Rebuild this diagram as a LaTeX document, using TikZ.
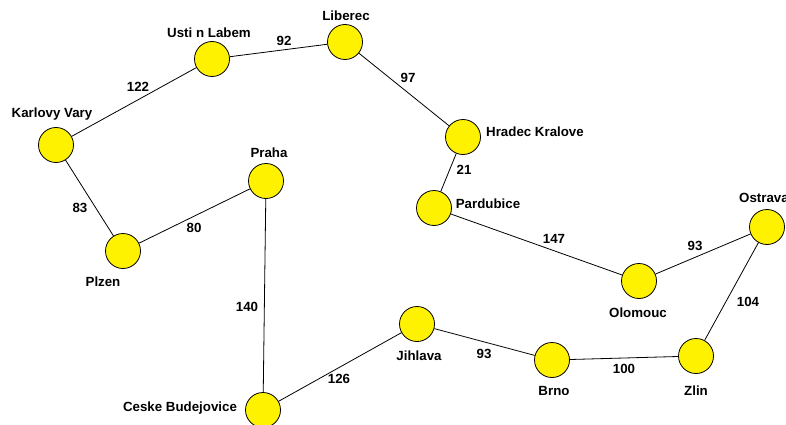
\documentclass[tikz,border=0pt]{standalone}
\usepackage{fontspec}
\setmainfont{Liberation Sans}
\begin{document}
\begin{tikzpicture}[x=1pt,y=-1pt,
  city/.style={circle,draw=black,line width=0.8pt,fill=yellow,minimum size=35pt,inner sep=0pt},
  lbl/.style={font=\fontsize{13.3}{15}\selectfont\bfseries,inner sep=0pt},
  road/.style={draw=black,line width=0.8pt}]
\useasboundingbox (0,0) rectangle (786,425);
% cities
\node[city] (usti) at (212,59) {};
\node[city] (lib) at (345,42) {};
\node[city] (kv) at (56,145) {};
\node[city] (hk) at (463,137) {};
\node[city] (pra) at (266,181) {};
\node[city] (par) at (434,208) {};
\node[city] (plz) at (123,251) {};
\node[city] (ost) at (767,227) {};
\node[city] (olo) at (639,281) {};
\node[city] (jih) at (417,324) {};
\node[city] (brno) at (552,360) {};
\node[city] (zlin) at (696,356) {};
\node[city] (cb) at (263,410) {};
% names
\node[lbl] (tusti) at (209,33) {Usti n Labem};
\node[lbl] (tlib) at (346,16) {Liberec};
\node[lbl] (tkv) at (52,114) {Karlovy Vary};
\node[lbl] (thk) at (535,132) {Hradec Kralove};
\node[lbl] (tpra) at (269,153) {Praha};
\node[lbl] (tpar) at (488,204) {Pardubice};
\node[lbl] (tplz) at (103,282) {Plzen};
\node[lbl] (tost) at (764,198) {Ostrava};
\node[lbl] (tolo) at (638,313) {Olomouc};
\node[lbl] (tjih) at (419,356) {Jihlava};
\node[lbl] (tbrno) at (554,391) {Brno};
\node[lbl] (tzlin) at (696,391) {Zlin};
\node[lbl] (tcb) at (180,408) {Ceske Budejovice};
% roads
\begin{scope}[on background layer/.style={}]
\draw[road] (kv) -- (usti);
\draw[road] (usti) -- (lib);
\draw[road] (lib) -- (hk);
\draw[road] (hk) -- (par);
\draw[road] (kv) -- (plz);
\draw[road] (plz) -- (pra);
\draw[road] (pra) -- (cb);
\draw[road] (cb) -- (jih);
\draw[road] (jih) -- (brno);
\draw[road] (brno) -- (zlin);
\draw[road] (zlin) -- (ost);
\draw[road] (ost) -- (olo);
\draw[road] (olo) -- (par);
\end{scope}
% distances
\node[lbl] (d1) at (138,87) {122};
\node[lbl] (d2) at (284,41) {92};
\node[lbl] (d3) at (408,78) {97};
\node[lbl] (d4) at (464,170) {21};
\node[lbl] (d5) at (80,208) {83};
\node[lbl] (d6) at (194,228) {80};
\node[lbl] (d7) at (554,239) {147};
\node[lbl] (d8) at (695,246) {93};
\node[lbl] (d9) at (748,302) {104};
\node[lbl] (d10) at (247,307) {140};
\node[lbl] (d11) at (339,379) {126};
\node[lbl] (d12) at (484,354) {93};
\node[lbl] (d13) at (624,369) {100};
\end{tikzpicture}
\end{document}
